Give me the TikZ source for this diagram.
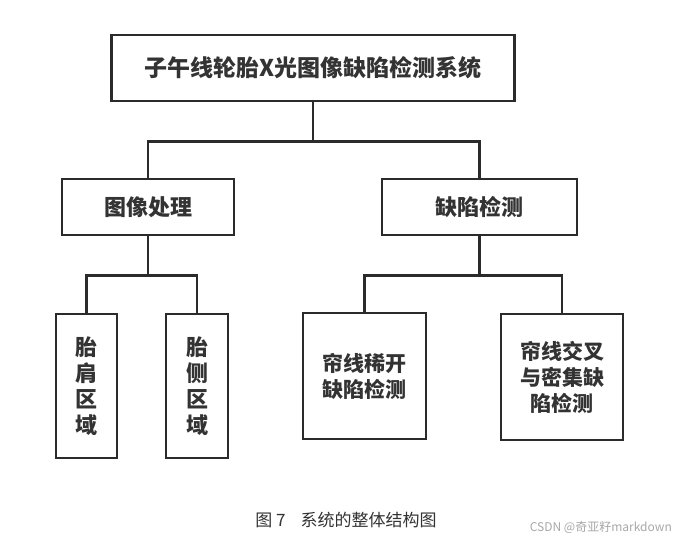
\documentclass[tikz,border=0pt]{standalone}
\usepackage{fontspec}
\setmainfont{Noto Sans CJK SC}
\definecolor{lineC}{HTML}{2B2B2B}
\definecolor{textC}{HTML}{333333}
\definecolor{wmC}{HTML}{A8A8A8}
\begin{document}
\begin{tikzpicture}[x=1pt,y=-1pt,
  box/.style={draw=lineC,line width=2.6pt,inner sep=0pt,align=center,text=textC,font=\fontsize{22}{26}\selectfont\bfseries},
  link/.style={draw=lineC,line width=2.6pt}]
\useasboundingbox (0,0) rectangle (679,540);
\fill[white] (0,0) rectangle (679,540);
\node[box,minimum width=403pt,minimum height=66pt,font=\fontsize{23}{26}\selectfont\bfseries] (top) at (313,68) {子午线轮胎X光图像缺陷检测系统};
\node[box,minimum width=172pt,minimum height=56pt] (proc) at (148,207) {图像处理};
\node[box,minimum width=195pt,minimum height=56pt] (det) at (479.5,207) {缺陷检测};
\node[box,minimum width=61pt,minimum height=144pt] (shoulder) at (86.5,386) {胎\\肩\\区\\域};
\node[box,minimum width=62pt,minimum height=144pt] (side) at (197,386) {胎\\侧\\区\\域};
\node[box,minimum width=123pt,minimum height=126pt,font=\fontsize{21}{26}\selectfont\bfseries] (sparse) at (364.5,376) {帘线稀开\\缺陷检测};
\node[box,minimum width=122pt,minimum height=126pt,font=\fontsize{21}{26}\selectfont\bfseries] (cross) at (562,377) {帘线交叉\\与密集缺\\陷检测};
\draw[link] (top.south) -- ++(0,39) -| (proc.north);
\draw[link] (top.south) -- ++(0,39) -| (det.north);
\draw[link] (proc.south) -- ++(0,39) -| (shoulder.north);
\draw[link] (proc.south) -- ++(0,39) -| (side.north);
\draw[link] (det.south) -- ++(0,39) -| (sparse.north);
\draw[link] (det.south) -- ++(0,39) -| (cross.north);
\node[text=textC,font=\fontsize{17}{19}\selectfont,inner sep=0pt] (cap) at (346,520) {图 7\hspace{15pt}系统的整体结构图};
\node[text=wmC,font=\fontsize{12}{13}\selectfont,inner sep=0pt,anchor=east] (wm) at (672,527) {CSDN @奇亚籽markdown};
\end{tikzpicture}
\end{document}
